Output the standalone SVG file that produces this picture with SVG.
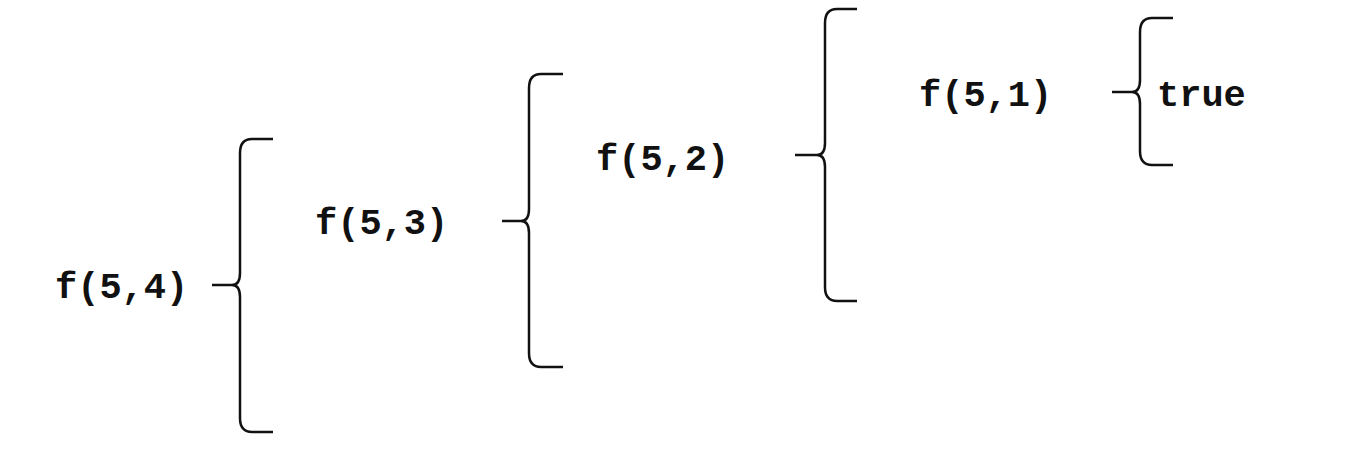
<svg xmlns="http://www.w3.org/2000/svg" width="1366" height="463" viewBox="0 0 1366 463">
<style>
.lbl{font-family:"Liberation Mono","Courier New",monospace;font-weight:bold;font-size:37px;fill:#111}
.br{fill:none;stroke:#111;stroke-width:2.5;stroke-linecap:butt;stroke-linejoin:round}
</style>
<rect width="1366" height="463" fill="#fff"/>
<g id="n54"><text class="lbl" x="55" y="298">f(5,4)</text></g>
<g id="n53"><text class="lbl" x="315" y="234">f(5,3)</text></g>
<g id="n52"><text class="lbl" x="596" y="170">f(5,2)</text></g>
<g id="n51"><text class="lbl" x="919" y="106">f(5,1)</text></g>
<g id="ntrue"><text class="lbl" x="1157" y="106">true</text></g>
<g id="connectors">
<path class="br" d="M273,139 H252 Q240,139 240,153 V273 Q240,285 232,285 Q240,285 240,297 V418 Q240,432 252,432 H273 M212,285 H232"/>
<path class="br" d="M563,74 H541 Q529,74 529,88 V209 Q529,221 521,221 Q529,221 529,233 V353 Q529,367 541,367 H563 M502,221 H521"/>
<path class="br" d="M857,9 H837 Q825,9 825,23 V143 Q825,155 817,155 Q825,155 825,167 V287 Q825,301 837,301 H857 M795,155 H817"/>
<path class="br" d="M1173,18 H1152 Q1140,18 1140,32 V80 Q1140,92 1132,92 Q1140,92 1140,104 V151 Q1140,165 1152,165 H1173 M1112,92 H1132"/>
</g>
</svg>
